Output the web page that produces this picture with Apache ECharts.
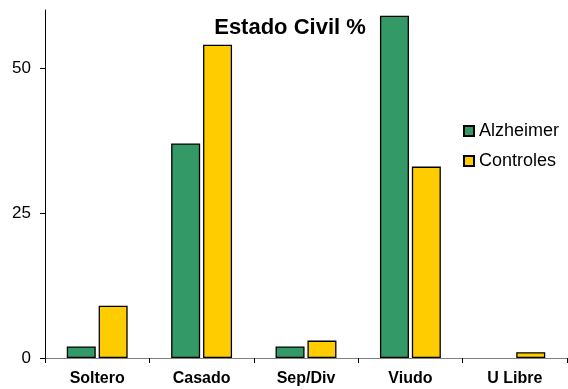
<!DOCTYPE html>
<html>
<head>
<meta charset="utf-8">
<script src="https://cdn.jsdelivr.net/npm/echarts@6/dist/echarts.min.js"></script>
<style>
  html, body { margin: 0; padding: 0; background: #fff; }
  #chart { width: 568px; height: 389px; }
</style>
</head>
<body>
<div id="chart"></div>
<script>
// Marital status distribution (%) per group
const categories = ['Soltero', 'Casado', 'Sep/Div', 'Viudo', 'U Libre'];
const alzheimer = [2, 37, 2, 59, 0];
const controles = [9, 54, 3, 33, 1];
const yTicks = [0, 25, 50];

const chart = echarts.init(document.getElementById('chart'));
const font = 'Liberation Sans, Arial, sans-serif';

// zero-height bars are left without an outline
const toBars = (values) => values.map(v => v === 0
  ? { value: v, itemStyle: { borderWidth: 0 } }
  : v);

chart.setOption({
  animation: false,
  textStyle: { fontFamily: font },
  title: {
    text: 'Estado Civil %',
    left: 285,
    textAlign: 'center',
    top: 12,
    textStyle: { fontFamily: font, fontSize: 22, fontWeight: 'bold', color: '#000' }
  },
  legend: {
    orient: 'vertical',
    left: 458,
    top: 117,
    itemWidth: 10,
    itemHeight: 10,
    itemGap: 12,
    icon: 'rect',
    textStyle: { fontFamily: font, fontSize: 18, color: '#000' },
    data: ['Alzheimer', 'Controles']
  },
  grid: { left: 45, right: 1, top: 10, bottom: 31, containLabel: false },
  xAxis: {
    type: 'category',
    data: categories,
    axisLine: { lineStyle: { color: '#808080', width: 1 } },
    axisTick: { show: true, length: 5, lineStyle: { color: '#000' } },
    axisLabel: { fontFamily: font, fontSize: 16, fontWeight: 'bold', color: '#000', margin: 13 }
  },
  yAxis: {
    type: 'value',
    min: 0,
    max: 60,
    interval: 25,
    splitLine: { show: false },
    axisLine: { show: true, lineStyle: { color: '#000', width: 1 } },
    axisTick: { show: true, length: 5, customValues: yTicks, lineStyle: { color: '#000' } },
    axisLabel: { fontFamily: font, fontSize: 17, color: '#000', margin: 14, customValues: yTicks }
  },
  series: [
    {
      name: 'Alzheimer',
      type: 'bar',
      data: toBars(alzheimer),
      barWidth: 29,
      barGap: '10%',
      itemStyle: { color: '#339966', borderColor: '#000', borderWidth: 1.3 }
    },
    {
      name: 'Controles',
      type: 'bar',
      data: toBars(controles),
      barWidth: 29,
      itemStyle: { color: '#FFCC00', borderColor: '#000', borderWidth: 1.3 }
    }
  ]
});
</script>
</body>
</html>
